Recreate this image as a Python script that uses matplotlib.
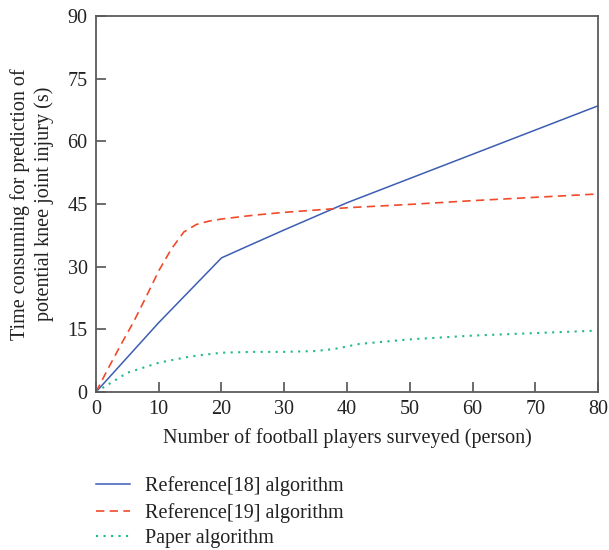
import matplotlib.pyplot as plt

plt.rcParams['font.family'] = ['Liberation Serif', 'DejaVu Serif']

# players surveyed vs time consuming (s)
x_ref18 = [0, 10, 20, 24, 30, 40, 50, 60, 70, 80]
y_ref18 = [0, 16.6, 32.1, 34.8, 38.8, 45.3, 51.1, 56.9, 62.7, 68.5]

x_ref19 = [0, 2, 4, 6, 8, 10, 12, 14, 16, 18, 20, 25, 30, 40, 50, 60, 70, 80]
y_ref19 = [0, 5.8, 11.4, 16.8, 22.8, 29.0, 34.2, 38.3, 40.1, 40.9, 41.4, 42.3, 43.0, 44.1, 44.9, 45.8, 46.6, 47.4]

x_paper = [0, 5, 10, 15, 20, 25, 30, 35, 38, 42, 50, 60, 70, 80]
y_paper = [0, 4.6, 7.0, 8.5, 9.4, 9.6, 9.6, 9.8, 10.3, 11.5, 12.6, 13.5, 14.1, 14.7]

labels = ["Reference[18] algorithm", "Reference[19] algorithm", "Paper algorithm"]

fig = plt.figure(figsize=(6.09, 5.5), dpi=100)
ax = fig.add_axes([0.1576, 0.2873, 0.8244, 0.6836])

ax.plot(x_ref18, y_ref18, color='#3c5db2', lw=1.1, label=labels[0])
ax.plot(x_ref19, y_ref19, color='#f04a2a', lw=1.2, ls=(0, (5, 3.2)), label=labels[1])
ax.plot(x_paper, y_paper, color='#20b98a', lw=1.5, ls=(0, (1, 2.6)), label=labels[2])

ax.set_xlim(0, 80)
ax.set_ylim(0, 90)
ax.set_xticks(range(0, 81, 10))
ax.set_yticks(range(0, 91, 15))
ax.tick_params(direction='in', length=7, width=1.1, labelsize=14.5, pad=6,
               color='#444444', labelcolor='#222222')
for s in ax.spines.values():
    s.set_color('#5a5a5a')
    s.set_linewidth(1.3)

ax.set_xlabel("Number of football players surveyed (person)", fontsize=14.5,
              color='#222222', labelpad=6)
ax.set_ylabel("Time consuming for prediction of\npotential knee joint injury (s)",
              fontsize=14.5, color='#222222', labelpad=10, linespacing=1.25)

fig.legend(loc='upper left', bbox_to_anchor=(0.157, 0.134), frameon=False, fontsize=14.5,
           handlelength=1.7, handletextpad=0.75, labelspacing=0.32, borderpad=0,
           borderaxespad=0, labelcolor='#222222')

fig.savefig('out.png', dpi=100)
